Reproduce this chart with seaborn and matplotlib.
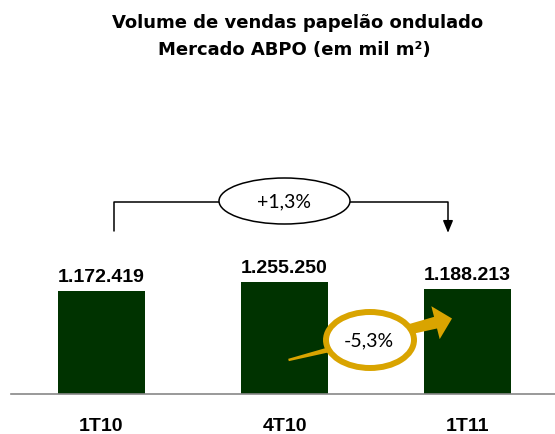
import numpy as np
import pandas as pd
import matplotlib
matplotlib.use("Agg")
import matplotlib.pyplot as plt
import seaborn as sns
from matplotlib.patches import Ellipse, Polygon, FancyArrowPatch
from matplotlib.path import Path

# ---------------------------------- Data -----------------------------------------

quarters = ["1T10", "4T10", "1T11"]
volumes = [1172419, 1255250, 1188213]
change_year = "+1,3%"
change_quarter = "-5,3%"
title_1 = "Volume de vendas papelão ondulado"
title_2 = "Mercado ABPO (em mil m²)"

# ---------------------------------- Figure -----------------------------------------

W, H = 555, 434
GREEN = "#003300"
GOLD = "#D9A400"


def px(x, y):
    # picture pixels (from top-left) -> figure fraction
    return (x / W, 1 - y / H)


sns.set_style("white")
plt.rcParams["text.color"] = "black"
plt.rcParams["xtick.color"] = "black"

fig = plt.figure(figsize=(W / 100, H / 100), dpi=100)
ax = fig.add_axes([11 / W, 40 / H, 544 / W, 294 / H])

df = pd.DataFrame({"trimestre": quarters, "volume": volumes})
sns.barplot(data=df, x="trimestre", y="volume", color=GREEN, saturation=1,
            width=0.475, linewidth=0, ax=ax)
ax.set_xlim(-0.4945, 2.478)
ax.set_ylim(220000, 2925700)

labels = [f"{v:,}".replace(",", ".") for v in volumes]
ax.bar_label(ax.containers[0], labels=labels, padding=3.4, fontsize=14,
             fontweight="bold", family="Liberation Sans", color="black")

for s in ["top", "right", "left"]:
    ax.spines[s].set_visible(False)
ax.spines["bottom"].set_color("#888888")
ax.spines["bottom"].set_linewidth(1.2)
ax.set_yticks([])
ax.set_xlabel("")
ax.set_ylabel("")
ax.tick_params(axis="x", length=0, pad=17, labelsize=14, labelcolor="black")
for lbl in ax.get_xticklabels():
    lbl.set_fontweight("bold")
    lbl.set_family("Liberation Sans")

# title
fig.text(*px(297.5, 28), title_1, ha="center", va="baseline", fontsize=13,
         fontweight="bold", family="DejaVu Sans")
fig.text(*px(294.5, 55), title_2, ha="center", va="baseline", fontsize=13,
         fontweight="bold", family="DejaVu Sans")

# bracket 1T10 -> 1T11
verts = [px(114, 231), px(114, 201.7), px(448, 201.7), px(448, 232.7)]
bracket = FancyArrowPatch(path=Path(verts), arrowstyle="-|>,head_length=0.72,head_width=0.3",
                          mutation_scale=10, color="black", lw=1.1,
                          transform=fig.transFigure, shrinkA=0, shrinkB=0, zorder=4)
fig.add_artist(bracket)
fig.add_artist(Ellipse(px(284.5, 201), 131 / W, 46 / H, transform=fig.transFigure,
                       facecolor="white", edgecolor="black", lw=1.1, zorder=5))
fig.text(*px(284.5, 201.5), change_year, ha="center", va="center", fontsize=14,
         family="Lato", zorder=6)

# gold arrow 4T10 -> 1T11
tail = np.array([288.5, 360.0])
tip = np.array([452.0, 318.5])
u = (tip - tail) / np.linalg.norm(tip - tail)
n = np.array([-u[1], u[0]])
base = tip - 17.0 * u
pts = [tail + 1.2 * n, base + 6.0 * n, base + 17.0 * n, tip,
       base - 17.0 * n, base - 6.0 * n, tail - 1.2 * n]
fig.add_artist(Polygon([px(*p) for p in pts], closed=True, transform=fig.transFigure,
                       facecolor=GOLD, edgecolor="none", zorder=4))
fig.add_artist(Ellipse(px(370, 340), 88 / W, 56 / H, transform=fig.transFigure,
                       facecolor="white", edgecolor=GOLD, lw=4.3, zorder=5))
fig.text(*px(369, 341), change_quarter, ha="center", va="center", fontsize=14,
         family="Lato", zorder=6)

fig.savefig("out.png", dpi=100)
